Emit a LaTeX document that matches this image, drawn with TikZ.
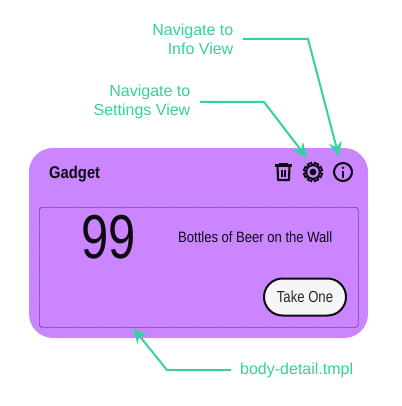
\documentclass[tikz,border=0pt]{standalone}
\usepackage{fontspec}
\setmainfont{Liberation Sans}
\usetikzlibrary{arrows.meta}
\definecolor{mint}{HTML}{35D19F}
\definecolor{card}{HTML}{CB86FF}
\definecolor{ink}{HTML}{0E0A12}
\newcommand{\fs}[1]{\fontsize{#1}{#1}\selectfont}
\tikzset{
 x=1pt,y=-1pt,
 callout/.style={text=mint,font=\fs{16},align=right,inner ysep=0pt},
 leader/.style={draw=mint,line width=2,-{Stealth[length=15,width=13]}},
 icon/.style={draw=ink,line width=2.1,fill=none},
 txt/.style={text=ink,inner sep=0pt,anchor=base west},
}
\begin{document}
\begin{tikzpicture}
\useasboundingbox (0,0) rectangle (401,406);
\fill[white] (0,0) rectangle (401,406);
\path[fill=card,rounded corners=24] (29,148) rectangle (368,338);
\node[draw=black!60!card,dash pattern=on 1pt off 0.5pt,line width=0.7,rounded corners=3,minimum width=319,minimum height=120,inner sep=0,anchor=north west] (detail) at (39,207) {};
\node[txt,font=\fs{17}\bfseries] (title) at (49,178) {\scalebox{0.87}[1]{Gadget}};
\node[txt,font=\fs{62}] (count) at (81,258) {\scalebox{0.79}[1]{99}};
\node[txt,font=\fs{15}] (caption) at (178,242) {\scalebox{0.87}[1]{Bottles of Beer on the Wall}};
\node[draw=ink,line width=2,fill=white!96!black,rounded corners=18.5,minimum width=82,minimum height=37,inner sep=0,text=black!85,font=\fs{16}] (take) at (305,297) {\scalebox{0.82}[1]{Take One}};
% trash icon
\draw[icon] (275,165.5) -- (291.5,165.5);
\draw[icon,line width=1.4] (280,165) -- (280,163.5) -- (287,163.5) -- (287,165);
\draw[icon,line join=round] (277.5,165.5) -- (278,180) -- (289,180) -- (289.5,165.5);
\draw[icon,line width=1.8] (281.8,169.5) -- (281.8,176.5) (285.2,169.5) -- (285.2,176.5);
% gear icon
\foreach \a in {22.5,67.5,112.5,157.5}
  \draw[ink,line width=5.6] ({313+10*cos(\a)},{172+10*sin(\a)}) -- ({313-10*cos(\a)},{172-10*sin(\a)});
\foreach \a in {22.5,67.5,112.5,157.5}
  \draw[card,line width=2] ({313+8*cos(\a)},{172+8*sin(\a)}) -- ({313-8*cos(\a)},{172-8*sin(\a)});
\fill[ink] (313,172) circle[radius=7.6];
\fill[card] (313,172) circle[radius=5.7];
\fill[ink] (313,172) circle[radius=3.4];
% info icon
\draw[icon] (343,172) circle[radius=9];
\fill[ink] (343,167.7) circle[radius=1.4];
\draw[ink,line width=2.2] (343,170.5) -- (343,177.5);
% callouts
\node[callout,anchor=east,inner xsep=9.5] (infolabel) at (243,39) {Navigate to\\[3pt]Info View};
\node[callout,anchor=east,inner xsep=9.5] (setlabel) at (200,102) {Navigate to\\[3pt]Settings View};
\node[callout,anchor=west,inner xsep=9] (bodylabel) at (231,370) {body-detail.tmpl};
\coordinate (infotip) at (339,157);
\coordinate (settip) at (307,158);
\coordinate (bodytip) at (133,328);
\draw[leader] (infolabel.east) -- (308,39) -- (infotip);
\draw[leader] (setlabel.east) -- (264,102) -- (settip);
\draw[leader] (bodylabel.west) -- (167,370) -- (bodytip);
\end{tikzpicture}
\end{document}
